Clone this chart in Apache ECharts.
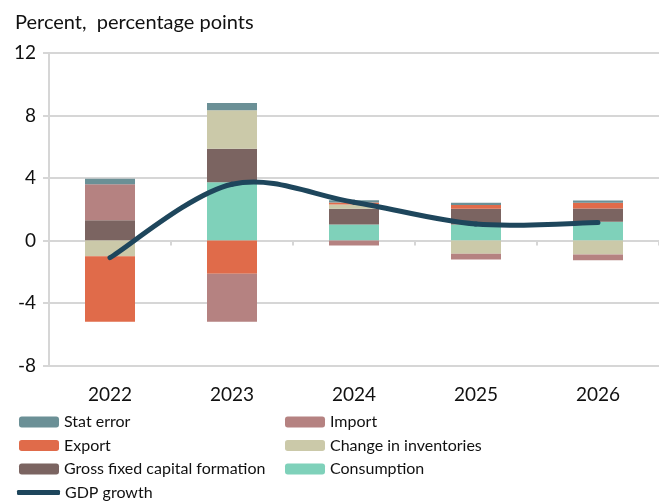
<!DOCTYPE html>
<html>
<head>
<meta charset="utf-8">
<script src="https://cdn.jsdelivr.net/npm/echarts@6/dist/echarts.min.js"></script>
<style>
  html, body { margin: 0; padding: 0; background: #fff; }
  #main { width: 659px; height: 502px; }
</style>
</head>
<body>
<div id="main"></div>
<script>
// data
var years = ['2022', '2023', '2024', '2025', '2026'];
var consumption = [0, 3.73, 1.02, 1.02, 1.2];
var gfcf = [1.3, 2.15, 1.02, 1.02, 0.85];
var inventories = [-1.0, 2.45, 0.26, -0.85, -0.9];
var exportVals = [-4.2, -2.13, 0.13, 0.24, 0.36];
var importVals = [2.3, -3.07, -0.32, -0.36, -0.36];
var statError = [0.35, 0.47, 0.15, 0.13, 0.15];
var gdpGrowth = [-1.1, 3.6, 2.45, 1.05, 1.15];

var FONT = 'Lato';
var gridColor = '#d6d6d6';
var lineColor = '#1e465c';

var chartDom = document.getElementById('main');
var myChart = echarts.init(chartDom);

function barSeries(name, data, color) {
  return {
    name: name,
    type: 'bar',
    stack: 'total',
    xAxisIndex: 0,
    barWidth: 50,
    data: data,
    itemStyle: { color: color },
    emphasis: { disabled: true }
  };
}

// excel-like smoothed line: one bezier segment per point pair, control points from neighbours
function renderGdp(params, api) {
  var i = params.dataIndex;
  var n = gdpGrowth.length;
  if (i >= n - 1) return null;
  var pt = function (k) {
    k = Math.max(0, Math.min(n - 1, k));
    return api.coord([k, gdpGrowth[k]]);
  };
  var p0 = pt(i - 1), p1 = pt(i), p2 = pt(i + 1), p3 = pt(i + 2);
  return {
    type: 'bezierCurve',
    shape: {
      x1: p1[0], y1: p1[1],
      x2: p2[0], y2: p2[1],
      cpx1: p1[0] + (p2[0] - p0[0]) / 6, cpy1: p1[1] + (p2[1] - p0[1]) / 6,
      cpx2: p2[0] - (p3[0] - p1[0]) / 6, cpy2: p2[1] - (p3[1] - p1[1]) / 6
    },
    style: { stroke: lineColor, lineWidth: 5, fill: null, lineCap: 'round' }
  };
}

var series = [
  barSeries('Consumption', consumption, '#7fd1ba'),
  barSeries('Gross fixed capital formation', gfcf, '#7b6461'),
  barSeries('Change in inventories', inventories, '#cbc9a9'),
  barSeries('Export', exportVals, '#e06b4a'),
  barSeries('Import', importVals, '#b58281'),
  barSeries('Stat error', statError, '#6b9096'),
  {
    name: 'GDP growth',
    type: 'custom',
    xAxisIndex: 0,
    renderItem: renderGdp,
    data: gdpGrowth.map(function (v, i) { return [i, v]; }),
    encode: { x: 0, y: 1 },
    z: 5,
    itemStyle: { color: lineColor }
  }
];

var legendText = { fontFamily: FONT, fontSize: 16, color: '#111' };

function legendBox(left, top, names) {
  return {
    orient: 'vertical',
    left: left,
    top: top,
    height: 120,
    padding: 0,
    itemWidth: 40,
    itemHeight: 11,
    itemGap: 7.5,
    textStyle: legendText,
    data: names
  };
}

var gdpLegend = legendBox(17, 484.5, [{ name: 'GDP growth', icon: 'roundRect' }]);
gdpLegend.itemWidth = 43;
gdpLegend.itemHeight = 5;
gdpLegend.height = 30;

var option = {
  animation: false,
  title: {
    text: 'Percent,  percentage points',
    left: 10,
    top: 8,
    textStyle: { fontFamily: FONT, fontSize: 20, fontWeight: 'normal', color: '#111' }
  },
  grid: { left: 49, top: 53, width: 624, height: 312.5, containLabel: false },
  legend: [
    legendBox(19, 414, ['Stat error', 'Export', 'Gross fixed capital formation']),
    legendBox(285, 414, ['Import', 'Change in inventories', 'Consumption']),
    gdpLegend
  ],
  xAxis: [
    {
      type: 'category',
      data: years,
      axisLine: { show: false, onZero: false },
      axisTick: { show: false },
      axisLabel: { fontFamily: FONT, fontSize: 19, color: '#111', margin: 20 }
    },
    {
      type: 'category',
      data: years,
      position: 'bottom',
      axisLine: { show: true, onZero: true, lineStyle: { color: gridColor, width: 2 } },
      axisTick: { show: true, length: 5, lineStyle: { color: gridColor, width: 2 } },
      axisLabel: { show: false }
    }
  ],
  yAxis: {
    type: 'value',
    min: -8,
    max: 12,
    interval: 4,
    axisLine: { show: true, lineStyle: { color: gridColor, width: 2 } },
    axisTick: { show: true, length: 6, lineStyle: { color: gridColor, width: 2 } },
    axisLabel: { fontFamily: FONT, fontSize: 19, color: '#111', margin: 13 },
    splitLine: { show: true, lineStyle: { color: gridColor, width: 2 } }
  },
  series: series
};

option && myChart.setOption(option);
</script>
</body>
</html>
